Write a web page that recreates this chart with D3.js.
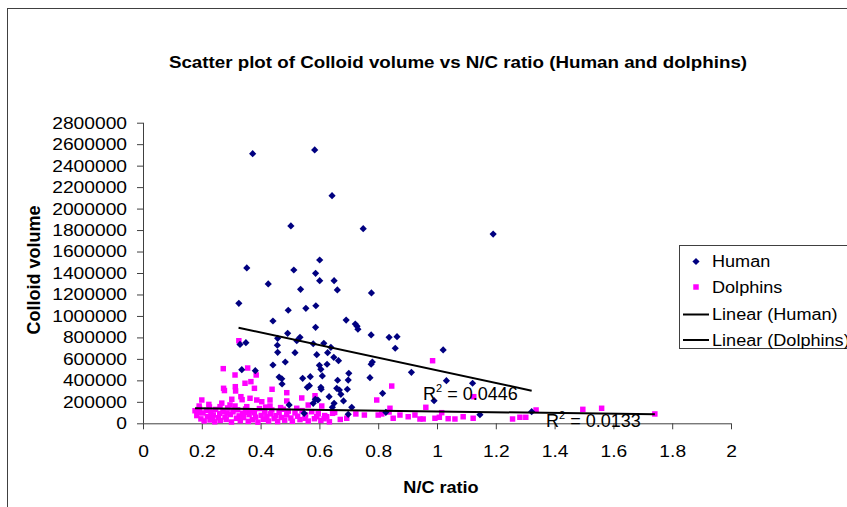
<!DOCTYPE html>
<html>
<head>
<meta charset="utf-8">
<script src="https://cdn.jsdelivr.net/npm/d3@7"></script>
<style>
body { margin: 0; background: #fff; }
svg { display: block; }
text { font-family: "Liberation Sans", Arial, sans-serif; fill: #000; }
</style>
</head>
<body>
<svg width="847" height="507"></svg>
<script>
// waarden: [N/C ratio, colloid volume]
var humanPoints = [
  [0.373,2511000],[0.584,2546000],[0.643,2120000],[0.503,1838000],[0.749,1813000],[1.191,1763000],
  [0.353,1447000],[0.601,1521000],[0.513,1428000],[0.587,1397000],[0.426,1298000],[0.601,1328000],
  [0.650,1328000],[0.536,1248000],[0.661,1242000],[0.777,1214000],[0.588,1095000],[0.554,1071000],
  [0.691,962000],[0.722,925000],[0.728,905000],[0.731,876000],[0.587,894000],[0.776,823000],
  [0.837,801000],[0.864,807000],[0.534,801000],[0.326,1118000],[0.494,1053000],[0.442,953000],
  [0.492,838000],[0.350,751000],[0.330,735000],[0.458,792000],[0.457,727000],[0.579,741000],
  [0.615,745000],[0.523,769000],[0.458,661000],[0.517,658000],[0.591,639000],[0.628,658000],
  [0.649,615000],[0.665,583000],[0.780,571000],[0.776,550000],[0.639,708000],[0.484,571000],
  [0.442,543000],[0.336,499000],[0.382,490000],[0.463,431000],[0.472,415000],[0.600,540000],
  [0.605,503000],[0.626,550000],[0.610,441000],[0.543,419000],[0.569,434000],[0.473,366000],
  [0.559,335000],[0.566,350000],[0.605,335000],[0.606,317000],[0.662,401000],[0.700,466000],
  [0.698,403000],[0.659,326000],[0.668,310000],[0.695,317000],[0.772,425000],[0.633,248000],
  [0.673,270000],[0.682,208000],[0.586,224000],[0.595,217000],[0.650,186000],[0.644,149000],
  [0.710,149000],[0.698,84000],[0.579,186000],[0.548,93000],[0.858,699000],[1.021,683000],
  [0.913,475000],[1.032,397000],[1.121,373000],[0.815,279000],[0.990,211000],[1.146,80000],
  [1.322,108000],[0.826,102000],[0.497,171000]
];

var dolphinPoints = [
  [0.326,769000],[0.273,509000],[0.313,450000],[0.356,515000],[0.385,450000],[0.274,326000],
  [0.277,305000],[0.314,341000],[0.315,301000],[0.347,373000],[0.367,388000],[0.379,326000],
  [0.333,248000],[0.337,220000],[0.302,224000],[0.364,233000],[0.387,217000],[0.404,201000],
  [0.439,317000],[0.489,285000],[0.489,208000],[0.540,236000],[0.585,257000],[0.608,161000],
  [0.795,217000],[0.200,217000],[0.191,161000],[0.226,152000],[0.262,155000],[0.313,161000],
  [0.353,155000],[0.432,217000],[0.432,161000],[0.523,140000],[0.562,170000],[0.177,117000],
  [0.188,99000],[0.645,93000],[0.693,47000],[0.724,87000],[0.753,77000],[0.800,77000],
  [0.616,43000],[0.625,61000],[0.591,61000],[0.551,47000],
  [0.985,583000],[0.846,347000],[0.840,140000],[0.837,105000],[0.962,149000],[1.016,99000],
  [0.874,77000],[0.851,47000],[0.902,61000],[0.925,77000],[0.942,40000],[0.953,40000],
  [0.993,47000],[1.008,56000],[1.038,43000],[1.061,40000],[1.089,61000],[1.123,47000],
  [0.812,87000],[1.257,40000],[1.282,56000],[1.302,56000],[1.337,124000],[1.125,248000],
  [1.496,130000],[1.560,140000],[1.741,87000],
  [0.183,72000],[0.192,138000],[0.197,41000],[0.204,96000],[0.208,22000],[0.216,121000],
  [0.219,63000],[0.228,31000],[0.231,104000],[0.239,78000],[0.244,14000],[0.247,129000],
  [0.256,52000],[0.261,91000],[0.263,27000],[0.272,112000],[0.279,58000],[0.283,36000],
  [0.288,143000],[0.297,82000],[0.301,12000],[0.306,107000],[0.318,47000],[0.322,126000],
  [0.327,69000],[0.331,24000],[0.339,94000],[0.342,53000],[0.349,133000],[0.358,18000],
  [0.361,81000],[0.368,116000],[0.372,33000],[0.379,99000],[0.383,57000],[0.391,11000],
  [0.396,137000],[0.402,74000],[0.409,37000],[0.414,109000],[0.421,62000],[0.427,21000],
  [0.433,88000],[0.438,124000],[0.446,44000],[0.452,71000],[0.458,16000],[0.463,102000],
  [0.471,54000],[0.477,131000],[0.482,29000],[0.489,79000],[0.494,113000],[0.503,49000],
  [0.508,19000],[0.517,97000],[0.526,66000],[0.534,34000],[0.541,118000],[0.553,77000],
  [0.562,21000],[0.574,108000],[0.583,43000],[0.596,89000],[0.605,26000],[0.618,72000],
  [0.634,14000],[0.652,101000],[0.671,36000],[0.224,176000],[0.268,188000],[0.296,171000],
  [0.236,58000],[0.286,96000],[0.352,103000],[0.417,151000],[0.468,146000]
];

// begin- en eindpunt van de trendlijnen
var humanTrend = [[0.325, 890000], [1.322, 304000]];
var dolphinTrend = [[0.177, 140000], [1.741, 84000]];

var xTicks = [0, 0.2, 0.4, 0.6, 0.8, 1, 1.2, 1.4, 1.6, 1.8, 2];
var yTicks = [0, 200000, 400000, 600000, 800000, 1000000, 1200000, 1400000,
  1600000, 1800000, 2000000, 2200000, 2400000, 2600000, 2800000];

var legendLabels = ["Human", "Dolphins", "Linear (Human)", "Linear (Dolphins)"];
var r2Labels = ["0.0446", "0.0133"];

var svg = d3.select("svg");

// de letters in het origineel zijn iets breder uitgerekt
var stretch = 1.13;
function widen(sel) {
  sel.each(function () {
    var len = this.getComputedTextLength();
    d3.select(this)
      .attr("textLength", len * stretch)
      .attr("lengthAdjust", "spacingAndGlyphs");
  });
}

// rand om de grafiek (rechts en onder valt buiten beeld)
svg.append("rect")
  .attr("x", 7.5).attr("y", 8.5)
  .attr("width", 900).attr("height", 600)
  .attr("fill", "#fff")
  .attr("stroke", "#404040");

var x = d3.scaleLinear().domain([0, 2]).range([143, 731]);
var y = d3.scaleLinear().domain([0, 2800000]).range([423.3, 122.7]);

svg.append("text")
  .attr("x", 458).attr("y", 68)
  .attr("text-anchor", "middle")
  .attr("font-weight", "bold")
  .attr("font-size", 16.6)
  .text("Scatter plot of Colloid volume vs N/C ratio (Human and dolphins)")
  .call(widen);

// x-as
var xAxis = svg.append("g")
  .attr("transform", "translate(0," + y(0) + ")")
  .call(d3.axisBottom(x).tickValues(xTicks).tickSize(6).tickPadding(16)
    .tickFormat(function (d) { return String(d); }));
xAxis.selectAll("text").attr("font-size", 17).attr("font-family", null).call(widen);

// y-as
var yAxis = svg.append("g")
  .attr("transform", "translate(" + x(0) + ",0)")
  .call(d3.axisLeft(y).tickValues(yTicks).tickSize(6).tickPadding(10)
    .tickFormat(function (d) { return String(d); }));
yAxis.selectAll("text").attr("font-size", 17).attr("font-family", null).call(widen);

svg.selectAll(".tick line").attr("stroke", "#404040");
xAxis.select(".domain").attr("stroke", "#404040").attr("d", "M" + x(0) + ",0.5H" + x(2));
yAxis.select(".domain").attr("stroke", "#404040").attr("d", "M0.5," + y(0) + "V" + y(2800000));

svg.append("text")
  .attr("x", 441).attr("y", 493)
  .attr("text-anchor", "middle")
  .attr("font-weight", "bold")
  .attr("font-size", 16)
  .text("N/C ratio")
  .call(widen);

svg.append("text")
  .attr("transform", "translate(40,270) rotate(-90)")
  .attr("text-anchor", "middle")
  .attr("font-weight", "bold")
  .attr("font-size", 18)
  .text("Colloid volume");

var square = d3.symbol().type(d3.symbolSquare);

svg.append("g").selectAll("path")
  .data(dolphinPoints)
  .enter().append("path")
  .attr("transform", function (d) { return "translate(" + x(d[0]) + "," + y(d[1]) + ")"; })
  .attr("d", square.size(30)())
  .attr("fill", "#ff00ff");

svg.append("g").selectAll("path")
  .data(humanPoints)
  .enter().append("path")
  .attr("transform", function (d) { return "translate(" + x(d[0]) + "," + y(d[1]) + ") rotate(45)"; })
  .attr("d", d3.symbol().type(d3.symbolSquare).size(26)())
  .attr("fill", "#000080");

var line = d3.line()
  .x(function (d) { return x(d[0]); })
  .y(function (d) { return y(d[1]); });

[humanTrend, dolphinTrend].forEach(function (t) {
  svg.append("path")
    .datum(t)
    .attr("d", line)
    .attr("fill", "none")
    .attr("stroke", "#000")
    .attr("stroke-width", 2);
});

// R kwadraat labels
function r2(xp, yp, val) {
  var t = svg.append("text").attr("x", xp).attr("y", yp).attr("font-size", 18);
  t.append("tspan").text("R");
  t.append("tspan").attr("font-size", 11).attr("dy", -8).text("2");
  t.append("tspan").attr("dy", 8).text(" = " + val);
}
r2(423, 400, r2Labels[0]);
r2(546, 427, r2Labels[1]);

// legenda
var legend = svg.append("g");
legend.append("rect")
  .attr("x", 679.5).attr("y", 245.5)
  .attr("width", 200).attr("height", 103)
  .attr("fill", "#fff")
  .attr("stroke", "#404040");

var rowY = [261.5, 287, 314.5, 340];
legendLabels.forEach(function (lab, i) {
  var ly = rowY[i];
  if (i === 0) {
    legend.append("path")
      .attr("transform", "translate(696," + ly + ") rotate(45)")
      .attr("d", d3.symbol().type(d3.symbolSquare).size(26)())
      .attr("fill", "#000080");
  } else if (i === 1) {
    legend.append("path")
      .attr("transform", "translate(696," + ly + ")")
      .attr("d", square.size(30)())
      .attr("fill", "#ff00ff");
  } else {
    legend.append("line")
      .attr("x1", 683).attr("x2", 709)
      .attr("y1", ly).attr("y2", ly)
      .attr("stroke", "#000").attr("stroke-width", 2);
  }
  legend.append("text")
    .attr("x", 712).attr("y", ly)
    .attr("dy", "0.35em")
    .attr("font-size", 16)
    .text(lab)
    .call(widen);
});
</script>
</body>
</html>
